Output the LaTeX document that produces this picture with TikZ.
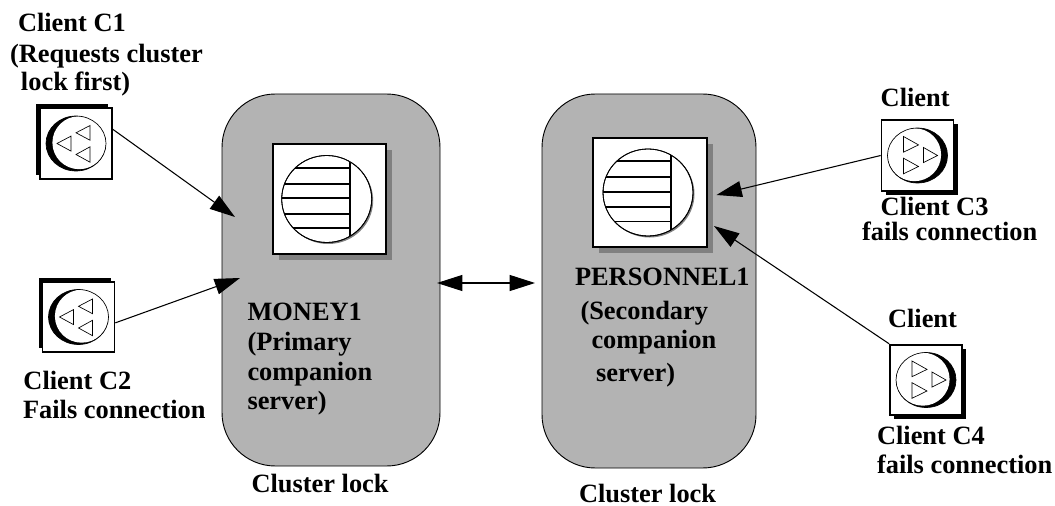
\documentclass[tikz,border=0pt]{standalone}
\usepackage{fontspec}
\setmainfont{Liberation Serif}
\usetikzlibrary{arrows.meta,shadows}
\definecolor{lockgray}{HTML}{B3B3B3}
\definecolor{shadegray}{HTML}{808080}
\tikzset{
  lbl/.style={anchor=base west,inner sep=0pt,outer sep=0pt,font=\bfseries\fontsize{19.8}{24}\selectfont},
  lockbox/.style={draw=black,fill=lockgray,line width=0.7pt,rounded corners=40pt,inner sep=0pt},
  clientbase/.style={draw=black,fill=white,line width=1.3pt,inner sep=0pt,minimum width=54pt,minimum height=53pt},
  clientleft/.style={clientbase,general shadow={fill=black,shadow xshift=-3pt,shadow yshift=3pt}},
  clientright/.style={clientbase,general shadow={fill=black,shadow xshift=3pt,shadow yshift=-3pt}},
  serverbox/.style={draw=black,fill=white,line width=1.4pt,inner sep=0pt,minimum width=85pt,minimum height=82pt,
     general shadow={fill=shadegray,shadow xshift=4.5pt,shadow yshift=-4.5pt}},
  conn/.style={draw=black,line width=0.8pt},
  headend/.style={-{Triangle[length=19pt,width=12pt]}},
  headboth/.style={{Triangle[length=19pt,width=12pt]}-{Triangle[length=19pt,width=12pt]}},
  triangleglyph/.style={draw=black,line width=0.5pt,fill=white},
  clienticonL/.pic={
    \fill[black] (0,0) ellipse [x radius=30,y radius=27.5];
    \fill[white] (3.2,-0.8) ellipse [x radius=26.8,y radius=26.5];
    \draw[line width=0.5pt] (0,0) ellipse [x radius=30,y radius=27.5];
    \draw[triangleglyph] (-19,0) -- (-5,-7.4) -- (-5,7.6) -- cycle;
    \draw[triangleglyph] (0,-10.7) -- (14,-18) -- (14,-3.3) -- cycle;
    \draw[triangleglyph] (0,11) -- (14,3.3) -- (14,18.7) -- cycle;
  },
  clienticonR/.pic={
    \fill[black] (0,0) ellipse [x radius=30,y radius=27.5];
    \fill[white] (-3.2,-0.8) ellipse [x radius=26.8,y radius=26.5];
    \draw[line width=0.5pt] (0,0) ellipse [x radius=30,y radius=27.5];
    \draw[triangleglyph] (-14,-19) -- (1,-10.6) -- (-14,-3.3) -- cycle;
    \draw[triangleglyph] (-14,2.7) -- (1,11) -- (-14,18.3) -- cycle;
    \draw[triangleglyph] (6,-8) -- (20,0) -- (6,7) -- cycle;
  },
  servericon/.pic={
    \fill[shadegray] (1.5,1.5) ellipse [x radius=45,y radius=43.5];
    \draw[line width=0.6pt,fill=white] (0,0) ellipse [x radius=45,y radius=43.5];
    \begin{scope}
      \clip (0,0) ellipse [x radius=45,y radius=43.5];
      \draw[line width=1.3pt] (23.2,-45) -- (23.2,45);
      \foreach \yy in {-31.3,-15.3,-0.8,14.8,29}{\draw[line width=1.3pt] (-46,\yy) -- (23.2,\yy);}
    \end{scope}
    \draw[line width=0.6pt] (0,0) ellipse [x radius=45,y radius=43.5];
  },
}
\begin{document}
\begin{tikzpicture}[x=0.75pt,y=-0.75pt]
\useasboundingbox (0,0) rectangle (1055,506);
% lock regions
\node[lockbox,minimum width=163.5pt,minimum height=279pt] (money) at (331,280) {};
\node[lockbox,minimum width=160.5pt,minimum height=280.5pt] (personnel) at (649,281) {};
% servers
\node[serverbox] (srvA) at (329.7,199) {};
\pic at ([xshift=-2.25pt]srvA.center) {servericon};
\node[serverbox] (srvB) at (650,192.5) {};
\pic at ([xshift=-1.5pt]srvB.center) {servericon};
% clients
\node[clientleft] (c1) at (76,143.5) {};
\pic at (c1) {clienticonL};
\node[clientleft] (c2) at (78.5,317) {};
\pic at (c2) {clienticonL};
\node[clientright] (c3) at (917.5,155.5) {};
\pic at (c3) {clienticonR};
\node[clientright] (c4) at (926,380) {};
\pic at (c4) {clienticonR};
% connector ends
\coordinate (tipA) at (235,217);
\coordinate (tipB) at (240,278);
\coordinate (tipC) at (716.5,195);
\coordinate (tipD) at (714,226);
\coordinate (linkA) at (437,283);
\coordinate (linkB) at (535,283);
\draw[conn,headend] (c1.21) -- (tipA);
\draw[conn,headend] (c2.-9) -- (tipB);
\draw[conn,headend] (c3.west) -- (tipC);
\draw[conn,headend] (c4.north west) -- (tipD);
\draw[conn,headboth] (linkA) -- (linkB);
% labels
\node[lbl] (t1a) at (18,32) {Client C1};
\node[lbl] (t1b) at (10,62.5) {(Requests cluster};
\node[lbl] (t1c) at (21,91) {lock first)};
\node[lbl] (t2a) at (23.5,389) {Client C2};
\node[lbl] (t2b) at (23,418) {Fails connection};
\node[lbl] (t3a) at (247.5,320.5) {MONEY1};
\node[lbl] (t3b) at (247.5,350.5) {(Primary};
\node[lbl] (t3c) at (247.5,380) {companion};
\node[lbl] (t3d) at (247.5,409) {server)};
\node[lbl] (t4a) at (575,285) {PERSONNEL1};
\node[lbl] (t4b) at (580.5,319.3) {(Secondary};
\node[lbl] (t4c) at (591.5,348.3) {companion};
\node[lbl] (t4d) at (596,381) {server)};
\node[lbl] (t5) at (251.5,492.5) {Cluster lock};
\node[lbl] (t6) at (579,502.5) {Cluster lock};
\node[lbl] (t7) at (880.7,106.7) {Client};
\node[lbl] (t8a) at (880.7,215) {Client C3};
\node[lbl] (t8b) at (862,240) {fails connection};
\node[lbl] (t9) at (888,327) {Client};
\node[lbl] (t10a) at (877,444) {Client C4};
\node[lbl] (t10b) at (877,473) {fails connection};
\end{tikzpicture}
\end{document}
